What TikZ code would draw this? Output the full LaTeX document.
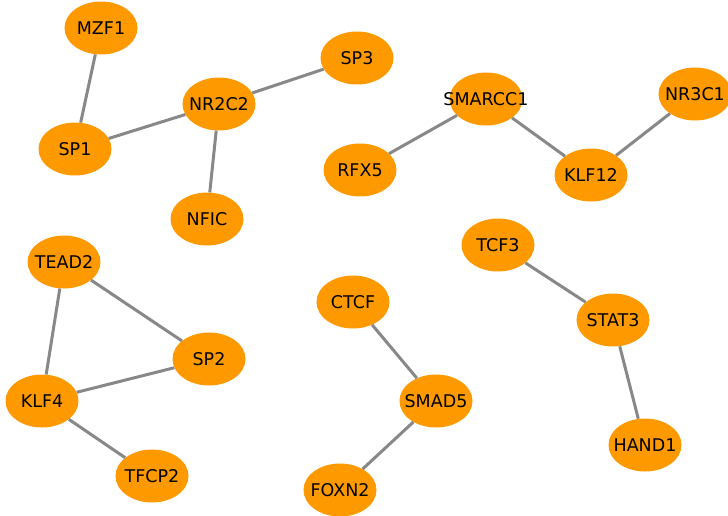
\documentclass[tikz,border=0pt]{standalone}
\usepackage{fontspec}
\setmainfont{DejaVu Sans}
\usetikzlibrary{shapes.geometric}
\definecolor{tforange}{RGB}{254,153,0}
\definecolor{edgegray}{RGB}{136,136,136}

\begin{document}
\begin{tikzpicture}[
  x=1pt, y=-1pt,
  tf/.style={ellipse, fill=tforange, minimum width=73pt, minimum height=53pt,
    inner sep=0pt, label={[font=\fontsize{17.5}{19}\selectfont]center:#1}},
  lnk/.style={edgegray, line width=3pt}
]
\useasboundingbox (0,0) rectangle (728,515);

\node [tf=MZF1] (mzf1) at (101,28) {};
\node [tf=SP1] (sp1) at (75,149) {};
\node [tf=NR2C2] (nr2c2) at (219,104) {};
\node [tf=SP3] (sp3) at (357,58) {};
\node [tf=NFIC] (nfic) at (207,219) {};
\node [tf=SMARCC1] (smarcc1) at (486,99) {};
\node [tf=RFX5] (rfx5) at (360,170) {};
\node [tf=KLF12] (klf12) at (591,175) {};
\node [tf=NR3C1] (nr3c1) at (695,94) {};
\node [tf=TEAD2] (tead2) at (64,262) {};
\node [tf=SP2] (sp2) at (209,359) {};
\node [tf=KLF4] (klf4) at (42,401) {};
\node [tf=TFCP2] (tfcp2) at (152,476) {};
\node [tf=CTCF] (ctcf) at (353,302) {};
\node [tf=SMAD5] (smad5) at (436,401) {};
\node [tf=FOXN2] (foxn2) at (340,490) {};
\node [tf=TCF3] (tcf3) at (498,245) {};
\node [tf=STAT3] (stat3) at (613,320) {};
\node [tf=HAND1] (hand1) at (645,445) {};

\draw [lnk] (mzf1) -- (sp1);
\draw [lnk] (sp1) -- (nr2c2);
\draw [lnk] (nr2c2) -- (sp3);
\draw [lnk] (nr2c2) -- (nfic);
\draw [lnk] (rfx5) -- (smarcc1);
\draw [lnk] (smarcc1) -- (klf12);
\draw [lnk] (klf12) -- (nr3c1);
\draw [lnk] (tead2) -- (sp2);
\draw [lnk] (tead2) -- (klf4);
\draw [lnk] (klf4) -- (sp2);
\draw [lnk] (klf4) -- (tfcp2);
\draw [lnk] (ctcf) -- (smad5);
\draw [lnk] (smad5) -- (foxn2);
\draw [lnk] (tcf3) -- (stat3);
\draw [lnk] (stat3) -- (hand1);
\end{tikzpicture}
\end{document}
